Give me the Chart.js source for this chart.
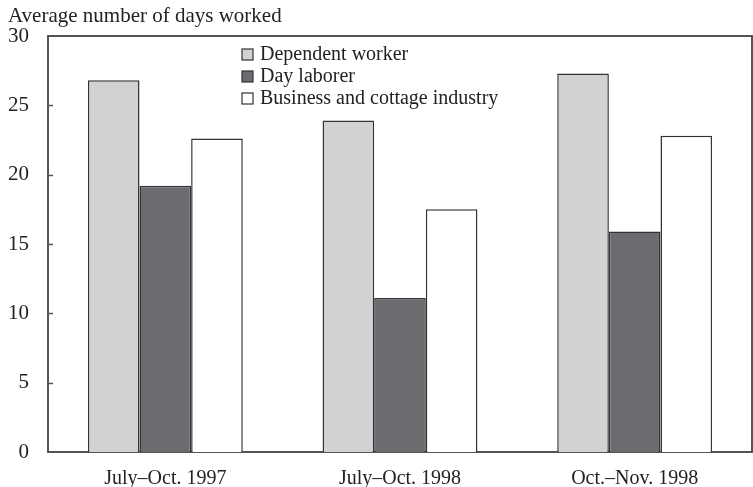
<!DOCTYPE html>
<html>
<head>
<meta charset="utf-8">
<script src="https://cdn.jsdelivr.net/npm/chart.js@4.4.1/dist/chart.umd.min.js"></script>
<style>
  html, body { margin: 0; padding: 0; background: #fff; }
  #wrap { width: 753px; height: 487px; }
</style>
</head>
<body>
<div id="wrap"><canvas id="myChart" width="753" height="487"></canvas></div>
<script>
// chart data
const periods = ['July\u2013Oct. 1997', 'July\u2013Oct. 1998', 'Oct.\u2013Nov. 1998']
const dependentWorker = [26.8, 23.9, 27.3]
const dayLaborer = [19.2, 11.1, 15.9]
const businessCottage = [22.6, 17.5, 22.8]
const yTicks = [0, 5, 10, 15, 20, 25, 30]

const serif = '"Liberation Serif", "DejaVu Serif", serif'
const ink = '#333'

// title, frame, inward ticks and the legend box inside the plot
const extras = {
  id: 'extras',
  afterDraw (chart) {
    const c = chart.ctx
    const a = chart.chartArea
    const y = chart.scales.y
    c.save()
    c.strokeStyle = '#555'
    c.lineWidth = 2
    c.beginPath()
    c.moveTo(a.left, a.top)
    c.lineTo(a.right, a.top)
    c.lineTo(a.right, a.bottom)
    c.stroke()
    c.lineWidth = 1.5
    yTicks.forEach(v => {
      if (v === 0 || v === 30) return
      const py = Math.round(y.getPixelForValue(v)) + 0.5
      c.beginPath()
      c.moveTo(a.left, py)
      c.lineTo(a.left + 5, py)
      c.stroke()
    })

    c.fillStyle = '#222'
    c.font = '21px ' + serif
    c.textBaseline = 'middle'
    c.textAlign = 'left'
    c.fillText('Average number of days worked', 8, 16)

    c.font = '20px ' + serif
    chart.data.datasets.forEach((ds, i) => {
      const cy = 55 + i * 22
      c.fillStyle = ds.backgroundColor
      c.fillRect(242, cy - 6, 11, 11)
      c.strokeStyle = ink
      c.lineWidth = 1.2
      c.strokeRect(242, cy - 6, 11, 11)
      c.fillStyle = '#222'
      c.fillText(ds.label, 260, cy)
    })
    c.restore()
  }
}

const ctx = document.getElementById('myChart').getContext('2d')
const myChart = new Chart(ctx, {
  type: 'bar',
  data: {
    labels: periods,
    datasets: [{
      label: 'Dependent worker',
      data: dependentWorker,
      backgroundColor: '#d1d2d4'
    }, {
      label: 'Day laborer',
      data: dayLaborer,
      backgroundColor: '#6b6c70'
    }, {
      label: 'Business and cottage industry',
      data: businessCottage,
      backgroundColor: '#ffffff'
    }]
  },
  options: {
    responsive: false,
    animation: false,
    events: [],
    layout: { padding: { top: 36, right: 1, left: 0, bottom: 0 } },
    datasets: {
      bar: {
        borderColor: ink,
        borderWidth: 1.5,
        borderSkipped: 'bottom',
        categoryPercentage: 0.66,
        barPercentage: 1
      }
    },
    plugins: {
      legend: { display: false },
      title: { display: false },
      tooltip: { enabled: false }
    },
    scales: {
      x: {
        grid: { display: false },
        border: { display: true, color: '#555', width: 2 },
        ticks: { color: '#222', font: { family: serif, size: 20 }, padding: 7 },
        afterFit (s) { s.height = 35 }
      },
      y: {
        min: 0,
        max: 30,
        afterBuildTicks (s) { s.ticks = yTicks.map(v => ({ value: v })) },
        grid: { display: false },
        border: { display: true, color: '#555', width: 2 },
        ticks: { color: '#222', font: { family: serif, size: 21 }, padding: 11 },
        afterFit (s) { s.width = 48 }
      }
    }
  },
  plugins: [extras]
})
</script>
</body>
</html>
